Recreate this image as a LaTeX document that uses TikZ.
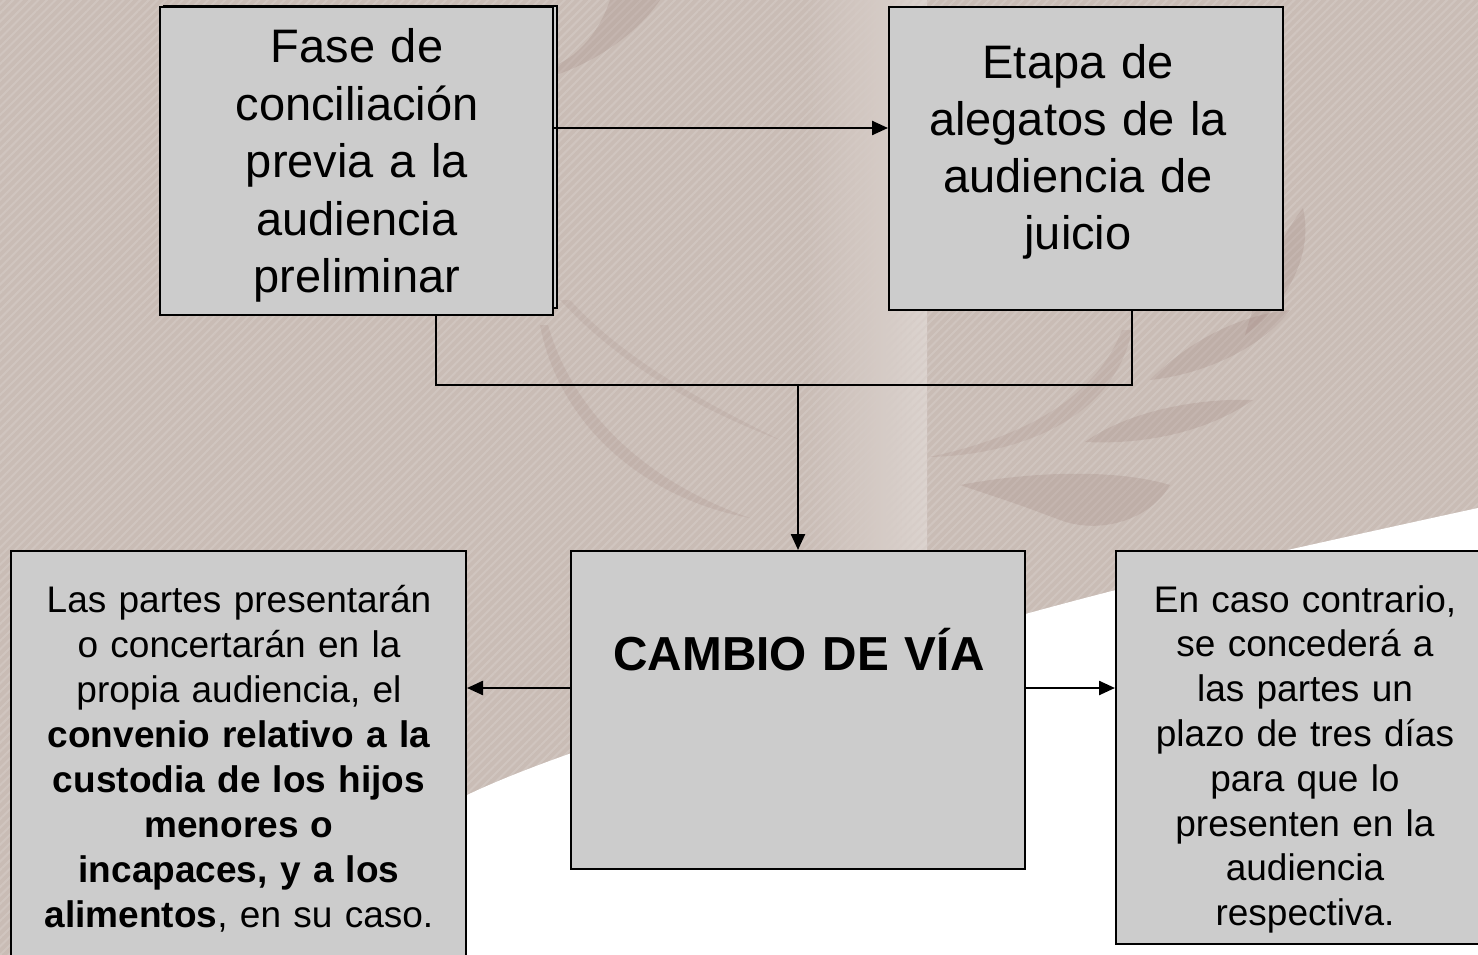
\documentclass[tikz,border=0pt]{standalone}
\usepackage{fontspec}
\setmainfont{Liberation Sans}
\usetikzlibrary{arrows.meta,patterns.meta}
\definecolor{bgbase}{RGB}{201,188,181}
\definecolor{bgstripe}{RGB}{213,203,198}
\definecolor{bgdark}{RGB}{150,118,112}
\definecolor{boxgray}{RGB}{204,204,204}
\begin{document}
\begin{tikzpicture}[x=1pt,y=-1pt,
  box/.style={draw=black, line width=2pt, fill=boxgray, rectangle, inner sep=0pt},
  lbl/.style={text width=440pt, align=center, anchor=base, inner sep=0pt, text=black},
  conn/.style={line width=2.4pt, draw=black},
  arr/.style={conn, -{Triangle[length=16pt,width=14pt]}},
  deco/.style={fill=bgdark, opacity=0.2}
]
\useasboundingbox (0,0) rectangle (1478,955);
\clip (0,0) rectangle (1478,955);
% background
\fill[bgbase] (0,0) rectangle (1478,955);
\shade[left color=bgbase, right color=white!35!bgbase] (805,0) rectangle (927,555);
\fill[pattern={Lines[angle=45,distance=6pt,line width=2pt]}, pattern color=bgstripe, opacity=0.6] (0,0) rectangle (1478,955);
% decorative swooshes
\fill[deco] (556,75) .. controls (600,60) and (640,30) .. (660,0) -- (610,0) .. controls (600,30) and (580,55) .. (556,65) -- cycle;
\fill[deco] (1303,208) .. controls (1315,260) and (1280,310) .. (1245,335) .. controls (1258,290) and (1278,240) .. (1303,208) -- cycle;
\fill[deco] (1290,310) .. controls (1260,350) and (1200,375) .. (1150,380) .. controls (1190,340) and (1240,315) .. (1290,310) -- cycle;
\fill[deco] (1253,400) .. controls (1210,430) and (1150,445) .. (1085,442) .. controls (1130,410) and (1200,398) .. (1253,400) -- cycle;
\fill[deco] (960,485) .. controls (1040,470) and (1120,470) .. (1170,485) .. controls (1150,520) and (1100,535) .. (1060,520) .. controls (1020,505) .. (960,485) -- cycle;
\fill[deco, opacity=0.15] (1132,330) .. controls (1115,415) and (1025,455) .. (929,457) .. controls (1020,438) and (1095,400) .. (1122,330) -- cycle;
\fill[deco, opacity=0.15] (540,325) .. controls (560,430) and (650,500) .. (750,518) .. controls (655,485) and (575,420) .. (548,325) -- cycle;
\fill[deco, opacity=0.12] (560,300) .. controls (620,365) and (700,410) .. (780,440) .. controls (700,400) and (625,360) .. (570,300) -- cycle;
% white lower region
\fill[white] plot[smooth] coordinates {(150,990) (467,795) (800,680) (1116,590) (1478,508)} -- (1478,955) -- (150,955) -- cycle;
% boxes
\node[box, minimum width=393pt, minimum height=302pt] (Ash) at (360.5,157) {};
\node[box, minimum width=393pt, minimum height=308pt] (A) at (356.5,161) {};
\node[box, minimum width=394pt, minimum height=303pt] (B) at (1086,158.5) {};
\node[box, minimum width=454pt, minimum height=318pt] (C) at (798,710) {};
\node[box, minimum width=455pt, minimum height=424pt] (L) at (238.5,763) {};
\node[box, minimum width=379pt, minimum height=393pt] (R) at (1305.5,747.5) {};
% texts
\node[lbl, font=\fontsize{47}{57.5}\selectfont] (tA) at (357,63) {Fase de\\conciliación\\previa a la\\audiencia\\preliminar};
\node[lbl, font=\fontsize{47}{57}\selectfont] (tB) at (1078,79) {Etapa de\\alegatos de la\\audiencia de\\juicio};
\node[lbl, font=\fontsize{47.7}{57}\selectfont\bfseries] (tC) at (799,670) {CAMBIO DE VÍA};
\node[lbl, font=\fontsize{37}{44.9}\selectfont] (tL) at (239,612.7) {Las partes presentarán\\o concertarán en la\\propia audiencia, el\\\textbf{convenio relativo a la}\\\textbf{custodia de los hijos}\\\textbf{menores o}\\\textbf{incapaces, y a los}\\\textbf{alimentos}, en su caso.};
\node[lbl, font=\fontsize{37}{44.8}\selectfont] (tR) at (1305,612) {En caso contrario,\\se concederá a\\las partes un\\plazo de tres días\\para que lo\\presenten en la\\audiencia\\respectiva.};
% connectors
\coordinate (yT) at (0,128);
\coordinate (xa) at (436,0);
\coordinate (xb) at (1132,0);
\coordinate (J) at (798,385);
\coordinate (yS) at (0,688);
\draw[arr] (A.east |- yT) -- (B.west |- yT);
\draw[conn] (A.south -| xa) -- (xa |- J) -- (xb |- J) -- (B.south -| xb);
\draw[arr] (J) -- (C.north -| J);
\draw[arr] (C.west |- yS) -- (L.east |- yS);
\draw[arr] (C.east |- yS) -- (R.west |- yS);
\end{tikzpicture}
\end{document}
